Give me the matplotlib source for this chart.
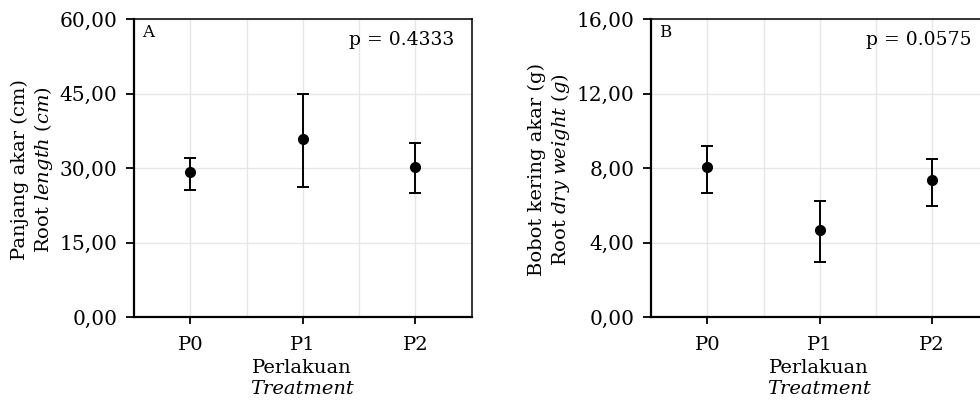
import matplotlib
matplotlib.use("Agg")
import matplotlib.pyplot as plt
from matplotlib.ticker import FixedLocator

plt.rcParams.update({"font.family": "DejaVu Serif", "mathtext.fontset": "custom",
                     "mathtext.rm": "DejaVu Serif", "mathtext.it": "DejaVu Serif:italic"})

treatments = ["P0", "P1", "P2"]

# (A) panjang akar (cm)
len_mean = [29.2, 35.9, 30.2]
len_low = [25.5, 26.2, 24.9]
len_high = [32.0, 45.0, 35.1]

# (B) bobot kering akar (g)
wt_mean = [8.05, 4.65, 7.33]
wt_low = [6.68, 2.93, 5.94]
wt_high = [9.16, 6.21, 8.49]

panels = [
    dict(tag="A", p="p = 0.4333", mean=len_mean, low=len_low, high=len_high,
         yticks=[0, 15, 30, 45, 60], ylab1="Panjang akar (cm)",
         ylab2=r"Root $\mathit{length\ (cm)}$", left=134),
    dict(tag="B", p="p = 0.0575", mean=wt_mean, low=wt_low, high=wt_high,
         yticks=[0, 4, 8, 12, 16], ylab1="Bobot kering akar (g)",
         ylab2=r"Root $\mathit{dry\ weight\ (g)}$", left=651),
]

W, H = 980, 401
fig = plt.figure(figsize=(W / 100, H / 100), dpi=100)

for pn in panels:
    ax = fig.add_axes([pn["left"] / W, (H - 317) / H, 337.5 / W, 298 / H])
    x = range(len(treatments))
    yerr = [[m - l for m, l in zip(pn["mean"], pn["low"])],
            [h - m for m, h in zip(pn["mean"], pn["high"])]]
    ax.errorbar(x, pn["mean"], yerr=yerr, fmt="o", color="black", ms=7,
                elinewidth=1.4, capsize=4, capthick=1.4, zorder=3)
    ax.set_xlim(-0.5, 2.5)
    ax.set_ylim(pn["yticks"][0], pn["yticks"][-1])
    ax.set_xticks(list(x))
    ax.set_xticklabels(treatments)
    ax.xaxis.set_minor_locator(FixedLocator([0.5, 1.5]))
    ax.set_yticks(pn["yticks"])
    ax.set_yticklabels([f"{v:.2f}".replace(".", ",") for v in pn["yticks"]])
    ax.grid(True, which="both", color="#e6e6e6", linewidth=1.0, zorder=0)
    ax.set_axisbelow(True)
    ax.tick_params(axis="x", which="minor", length=0)
    ax.tick_params(axis="x", which="major", length=5, width=1.3, pad=9, labelsize=14)
    ax.tick_params(axis="y", length=6, width=1.3, pad=6, labelsize=14.5)
    for side in ["left", "bottom"]:
        ax.spines[side].set_linewidth(1.6)
    for side in ["top", "right"]:
        ax.spines[side].set_linewidth(1.1)

    ax.text(0.024, 0.955, pn["tag"], transform=ax.transAxes, ha="left", va="center", fontsize=12)
    ax.text(0.95, 0.93, pn["p"], transform=ax.transAxes, ha="right", va="center", fontsize=13.5)

    yc = (H - 170) / H
    fig.text((pn["left"] - 114) / W, yc, pn["ylab1"], rotation=90, ha="center", va="center", fontsize=14)
    fig.text((pn["left"] - 90) / W, yc, pn["ylab2"], rotation=90, ha="center", va="center", fontsize=14)
    xc = (pn["left"] + 168) / W
    fig.text(xc, (H - 368) / H, "Perlakuan", ha="center", va="center", fontsize=14)
    fig.text(xc, (H - 389) / H, "Treatment", ha="center", va="center", fontsize=14, style="italic")

fig.savefig("out.png", dpi=100)
